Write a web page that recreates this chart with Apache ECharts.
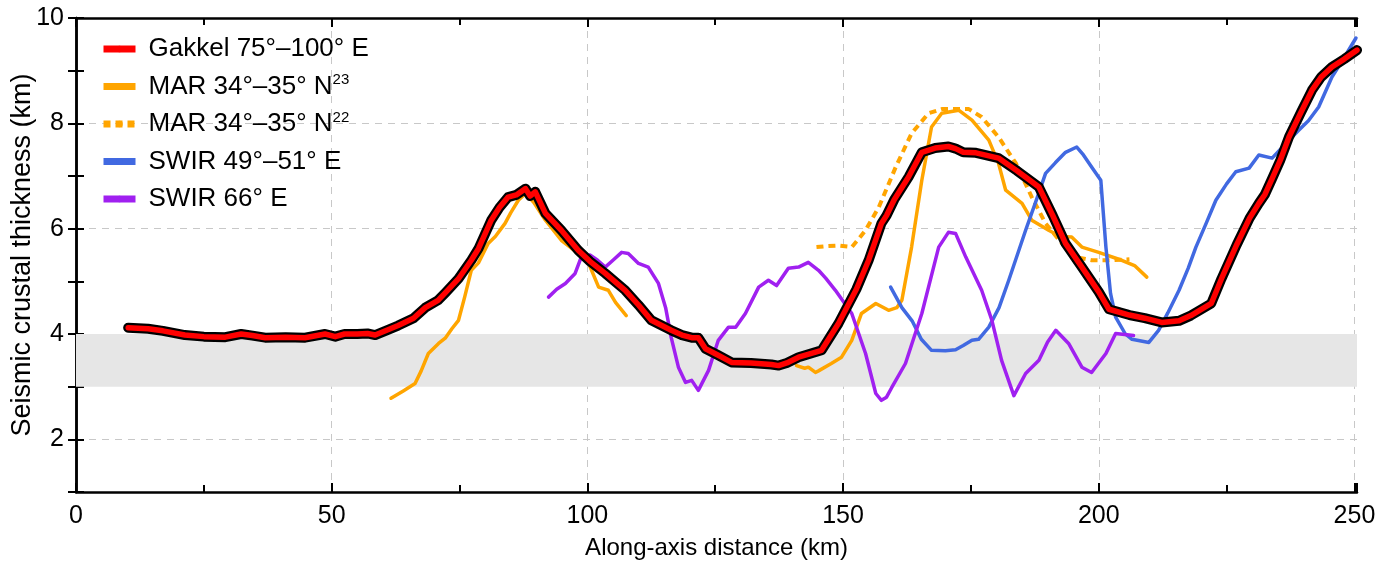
<!DOCTYPE html>
<html>
<head>
<meta charset="utf-8">
<script src="https://cdn.jsdelivr.net/npm/echarts@6/dist/echarts.min.js"></script>
<style>
  html, body { margin: 0; padding: 0; background: #fff; }
  #main { width: 1386px; height: 566px; }
</style>
</head>
<body>
<div id="main"></div>
<script>
// along-axis distance (km), crustal thickness (km)
const gakkel = [
  [10.2, 4.12], [14.1, 4.1], [17, 4.06], [21.3, 3.98], [25, 3.95], [29.2, 3.94], [32.3, 4.0], [34.5, 3.97],
  [37, 3.93], [41, 3.94], [44.8, 3.93], [48.7, 4.0], [50.7, 3.95], [52.5, 4.0], [55, 4.0], [57, 4.01],
  [58.5, 3.98], [61, 4.08], [63, 4.16], [66, 4.3], [68.3, 4.5], [70.8, 4.64], [72.2, 4.78], [74.8, 5.05],
  [77.3, 5.4], [78.7, 5.62], [81.2, 6.16], [82.8, 6.4], [84.5, 6.6], [86.1, 6.64], [87.9, 6.76], [88.8, 6.62],
  [89.8, 6.7], [91.8, 6.29], [94.9, 5.97], [98.2, 5.59], [100.5, 5.38], [103.5, 5.15], [107.4, 4.83],
  [110, 4.55], [112.5, 4.26], [116.4, 4.07], [118.5, 3.98], [120.4, 3.93], [121.7, 3.93], [123.1, 3.72],
  [125.5, 3.6], [128.2, 3.46], [132, 3.45], [136, 3.42], [137.4, 3.4], [139, 3.45], [141.3, 3.56],
  [145.8, 3.69], [149.1, 4.2], [152.6, 4.85], [155, 5.4], [157.5, 6.1], [158.5, 6.25], [160, 6.55],
  [162.8, 6.98], [165.4, 7.45], [168, 7.53], [170.6, 7.56], [172, 7.52], [173.5, 7.45], [176, 7.44],
  [180.4, 7.34], [184, 7.1], [188.3, 6.79], [191, 6.25], [193.5, 5.72], [196.7, 5.27], [200, 4.8],
  [202, 4.47], [206, 4.36], [209, 4.3], [212.3, 4.22], [215.7, 4.25], [218, 4.35], [222, 4.58],
  [224, 5.05], [227, 5.7], [229.5, 6.2], [231.3, 6.48], [232.5, 6.65], [233.9, 6.95], [235.5, 7.3],
  [237.2, 7.74], [239.5, 8.2], [241.7, 8.63], [243.5, 8.88], [245.6, 9.07], [248, 9.22], [250.5, 9.39]
];

const mar23a = [
  [61.6, 2.78], [64, 2.92], [66.3, 3.06], [67.5, 3.3], [68.9, 3.63], [70.9, 3.82], [72.2, 3.92],
  [73.5, 4.1], [74.8, 4.26], [76, 4.7], [77.3, 5.21], [78.7, 5.35], [80.6, 5.72], [82, 5.85],
  [83.9, 6.1], [85, 6.3], [86.5, 6.54], [87.9, 6.67], [89.5, 6.5], [91.8, 6.16], [94.9, 5.78],
  [98.2, 5.53], [100, 5.4], [102.2, 4.89], [104.1, 4.83], [105.5, 4.6], [107.6, 4.35]
];
const mar23b = [
  [140.9, 3.4], [142.5, 3.35], [143.2, 3.37], [144.6, 3.27], [145.2, 3.3], [147.7, 3.44], [149.7, 3.56],
  [151.7, 3.88], [153.6, 4.39], [156.4, 4.58], [158.9, 4.45], [160.5, 4.5], [161.5, 4.64], [163.4, 5.65],
  [165.4, 6.92], [167.3, 7.93], [169.3, 8.19], [172.6, 8.25], [175.2, 8.06], [178.5, 7.68], [180.4, 7.24],
  [181.8, 6.73], [185, 6.48], [186.9, 6.16], [190.2, 5.97], [192.5, 5.85], [194.7, 5.84], [196.7, 5.65],
  [200, 5.55], [204.5, 5.4], [207, 5.3], [209.4, 5.08]
];

const mar22 = [
  [144.8, 5.65], [147, 5.67], [149.1, 5.68], [151.7, 5.65], [153, 5.8], [154.4, 5.97], [157, 6.41],
  [160.3, 7.17], [163.4, 7.81], [166.7, 8.19], [169.3, 8.27], [174.6, 8.27], [177.1, 8.12], [180.4, 7.74],
  [183.8, 7.24], [186.9, 6.6], [189.6, 6.1], [192.8, 5.72], [195.5, 5.46], [198.6, 5.4], [202.5, 5.4],
  [206, 5.42]
];

const swir49 = [
  [159.3, 4.89], [161.5, 4.5], [163.5, 4.25], [165.3, 3.9], [167.3, 3.69], [170, 3.68], [172, 3.7],
  [173.5, 3.78], [175.2, 3.88], [176.5, 3.9], [178.5, 4.13], [180.5, 4.5], [182.4, 5.02], [185.7, 5.97],
  [188, 6.6], [189.6, 7.05], [191.5, 7.25], [193.5, 7.45], [195.7, 7.55], [197, 7.4], [198.6, 7.17],
  [200.4, 6.92], [201.4, 5.65], [202.3, 4.77], [203.3, 4.32], [205.2, 4.0], [206.5, 3.9], [209.8, 3.84],
  [211.7, 4.07], [213.5, 4.4], [215.7, 4.83], [217.5, 5.25], [219, 5.65], [221, 6.1], [222.9, 6.54],
  [225, 6.85], [226.8, 7.08], [229.4, 7.15], [231.3, 7.4], [233.9, 7.34], [236.6, 7.62], [239.1, 7.87],
  [241, 8.05], [243, 8.31], [245.6, 8.88], [248, 9.25], [250.3, 9.62]
];

const swir66 = [
  [92.4, 4.7], [94, 4.85], [95.7, 4.96], [97.6, 5.15], [98.8, 5.46], [100.5, 5.5], [102, 5.4], [103.5, 5.27],
  [105, 5.4], [106.7, 5.55], [108, 5.53], [110, 5.34], [111.9, 5.27], [113.9, 4.96], [115.3, 4.5],
  [116.4, 3.93], [117.8, 3.37], [119.2, 3.08], [120.4, 3.12], [121.7, 2.93], [123.7, 3.31], [125.6, 3.88],
  [127.6, 4.13], [129, 4.13], [130.9, 4.39], [133.5, 4.89], [135.4, 5.02], [137, 4.92], [139.3, 5.25],
  [141.3, 5.27], [143.2, 5.36], [145.2, 5.21], [146.6, 5.06], [148.5, 4.83], [151.7, 4.39], [154.4, 3.63],
  [156.4, 2.87], [157.5, 2.74], [158.5, 2.8], [159.5, 2.98], [162.2, 3.44], [165.4, 4.39], [168.7, 5.65],
  [170.6, 5.93], [172, 5.91], [174, 5.46], [177.1, 4.83], [179.1, 4.26], [181, 3.5], [183.4, 2.83],
  [185.7, 3.25], [188.3, 3.5], [190, 3.85], [191.6, 4.07], [194.1, 3.82], [196.7, 3.37], [198.6, 3.27],
  [201.4, 3.63], [203.3, 4.01], [206.8, 3.97]
];

const band = [3, 4];
const legendNames = ['Gakkel 75°–100° E', 'MAR 34°–35° N23', 'MAR 34°–35° N22', 'SWIR 49°–51° E', 'SWIR 66° E'];

const FONT = '"Liberation Sans", Arial, Helvetica, sans-serif';
const chart = echarts.init(document.getElementById('main'));

function line(name, data, color, width, extra) {
  return Object.assign({
    name: name,
    type: 'line',
    data: data,
    symbol: 'none',
    showSymbol: false,
    smooth: false,
    lineStyle: { color: color, width: width, cap: 'round', join: 'round' },
    itemStyle: { color: color },
    emphasis: { disabled: true },
    animation: false
  }, extra || {});
}

const tickStyle = { color: '#000', width: 2 };
const frameX = {
  type: 'value', min: 0, max: 250.5, interval: 50,
  axisLine: { show: true, lineStyle: { color: '#000', width: 2.5 } },
  axisTick: { show: true, inside: true, length: 9, lineStyle: tickStyle },
  minorTick: { show: true, splitNumber: 2, length: 7, lineStyle: tickStyle },
  splitLine: { show: false },
  axisLabel: { show: false }
};
const frameY = {
  type: 'value', min: 1, max: 10, interval: 1,
  axisLine: { show: true, lineStyle: { color: '#000', width: 2.5 } },
  axisTick: { show: true, inside: true, length: 8, lineStyle: tickStyle },
  splitLine: { show: false },
  axisLabel: { show: false }
};

chart.setOption({
  backgroundColor: '#fff',
  animation: false,
  grid: { left: 76, right: 29, top: 18, bottom: 74, containLabel: false, outerBoundsMode: 'none' },
  legend: {
    data: legendNames,
    orient: 'vertical',
    left: 100, top: 35,
    padding: 0,
    itemWidth: 32, itemHeight: 8,
    itemGap: 9.5,
    lineStyle: { width: 7, cap: 'butt' },
    formatter: function (n) { return n.replace(/N(\d+)$/, 'N{sup|$1}'); },
    textStyle: {
      fontFamily: FONT, fontSize: 26, color: '#000', lineHeight: 28,
      padding: [0, 0, 0, 8],
      rich: { sup: { fontFamily: FONT, fontSize: 15, color: '#000', verticalAlign: 'top', lineHeight: 16, padding: [0, 0, 12, 0] } }
    }
  },
  xAxis: [
    {
      type: 'value', min: 0, max: 250.5, interval: 50,
      name: 'Along-axis distance (km)', nameLocation: 'middle', nameGap: 44, nameMoveOverlap: false,
      nameTextStyle: { fontFamily: FONT, fontSize: 24, color: '#000' },
      axisLine: { show: true, onZero: false, lineStyle: { color: '#000', width: 2.5 } },
      axisTick: { show: true, inside: true, length: 9, lineStyle: tickStyle },
      minorTick: { show: true, splitNumber: 2, length: 7, lineStyle: tickStyle },
      axisLabel: {
        fontFamily: FONT, fontSize: 25, color: '#000', margin: 12,
        formatter: function (v) { return v % 50 === 0 ? String(v) : ''; }
      },
      splitLine: { show: true, showMinLine: false, showMaxLine: false, lineStyle: { color: '#c8c8c8', type: [7, 6], width: 1 } }
    },
    Object.assign({ position: 'top' }, frameX)
  ],
  yAxis: [
    {
      type: 'value', min: 1, max: 10, interval: 1,
      name: 'Seismic crustal thickness (km)', nameLocation: 'middle', nameGap: 40, nameMoveOverlap: false,
      nameTextStyle: { fontFamily: FONT, fontSize: 27, color: '#000' },
      axisLine: { show: true, onZero: false, lineStyle: { color: '#000', width: 2.5 } },
      axisTick: { show: true, inside: true, length: 8, lineStyle: tickStyle },
      axisLabel: {
        fontFamily: FONT, fontSize: 25, color: '#000', margin: 12,
        formatter: function (v) { return v % 2 === 0 ? String(v) : ''; }
      },
      splitLine: { show: true, lineStyle: { color: ['transparent', '#c8c8c8'], type: [7, 6], width: 1 } }
    },
    Object.assign({ position: 'right' }, frameY)
  ],
  series: [
    line('MAR 34°–35° N23', mar23a, '#ffa500', 3.5, {
      z: 2,
      markArea: {
        silent: true,
        itemStyle: { color: '#e6e6e6' },
        data: [[{ yAxis: band[0] }, { yAxis: band[1] }]]
      }
    }),
    line('MAR 34°–35° N23', mar23b, '#ffa500', 3.5, { z: 3 }),
    line('MAR 34°–35° N22', mar22, '#ffa500', 4, { z: 3, lineStyle: { color: '#ffa500', width: 4, type: [7, 5], cap: 'butt' } }),
    line('SWIR 49°–51° E', swir49, '#4169e1', 3.5, { z: 3 }),
    line('SWIR 66° E', swir66, '#a020f0', 3.5, { z: 3 }),
    line('Gakkel outline', gakkel, '#000', 10, { z: 4 }),
    line('Gakkel 75°–100° E', gakkel, '#ff0000', 5.5, { z: 5 })
  ]
});
</script>
</body>
</html>
